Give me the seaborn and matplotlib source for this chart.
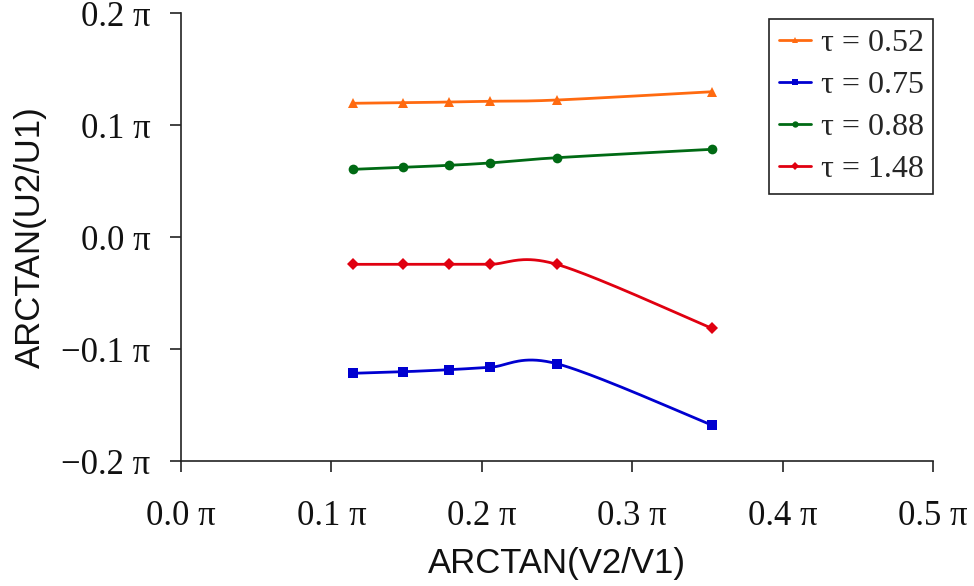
import numpy as np
import pandas as pd
import matplotlib
matplotlib.use('Agg')
import matplotlib.pyplot as plt
from matplotlib.lines import Line2D
from matplotlib.ticker import FuncFormatter
import seaborn as sns

# x positions (in units of pi), shared by all series
x_vals = [0.1142, 0.1477, 0.1779, 0.2052, 0.2498, 0.3529]

# y values (in units of pi) per tau
tau_labels = ["τ = 0.52", "τ = 0.75", "τ = 0.88", "τ = 1.48"]
y_052 = [0.1194, 0.1199, 0.1205, 0.1212, 0.1223, 0.1297]
y_075 = [-0.1217, -0.1203, -0.1185, -0.1164, -0.1131, -0.1679]
y_088 = [0.0604, 0.0622, 0.0640, 0.0661, 0.0708, 0.0783]
y_148 = [-0.0244, -0.0244, -0.0244, -0.0244, -0.0244, -0.0815]

series = [y_052, y_075, y_088, y_148]
colors = ["#ff6a10", "#0000d0", "#006a14", "#e00010"]
markers = ["^", "s", "o", "D"]
msizes = [7.5, 7, 7, 6]


def smooth_curve(xs, ys, n=40):
    """Excel style smoothed line: cubic Bezier segments, Catmull-Rom tangents (1/6)."""
    pts = np.column_stack([xs, ys])
    ext = np.vstack([pts[0], pts, pts[-1]])
    out = []
    t = np.linspace(0, 1, n)[:, None]
    for i in range(len(pts) - 1):
        p0, p1, p2, p3 = ext[i], ext[i + 1], ext[i + 2], ext[i + 3]
        c1 = p1 + (p2 - p0) / 6.0
        c2 = p2 - (p3 - p1) / 6.0
        seg = ((1 - t) ** 3) * p1 + 3 * ((1 - t) ** 2) * t * c1 + 3 * (1 - t) * t ** 2 * c2 + t ** 3 * p2
        out.append(seg if i == 0 else seg[1:])
    curve = np.vstack(out)
    return curve[:, 0], curve[:, 1]


sns.set_style("ticks")
serif = ["Liberation Serif", "DejaVu Serif"]
sans = ["Liberation Sans", "DejaVu Sans"]

fig = plt.figure(figsize=(9.74, 5.86), dpi=100)
ax = fig.add_axes([0.1858, 0.2133, 0.7722, 0.7645])

curves = []
for lab, ys in zip(tau_labels, series):
    cx, cy = smooth_curve(x_vals, ys)
    curves.append(pd.DataFrame({"x": cx, "y": cy, "tau": lab}))
curve_df = pd.concat(curves, ignore_index=True)
pts_df = pd.concat([pd.DataFrame({"x": x_vals, "y": ys, "tau": lab})
                    for lab, ys in zip(tau_labels, series)], ignore_index=True)

palette = dict(zip(tau_labels, colors))
sns.lineplot(data=curve_df, x="x", y="y", hue="tau", palette=palette, sort=False,
             estimator=None, linewidth=2.0, legend=False, ax=ax)
for lab, m, ms in zip(tau_labels, markers, msizes):
    sub = pts_df[pts_df["tau"] == lab]
    ax.plot(sub["x"], sub["y"], linestyle="none", marker=m, markersize=ms,
            color=palette[lab], markeredgewidth=0)

ax.set_xlim(0, 0.5)
ax.set_ylim(-0.2, 0.2)
ax.set_xticks([0.0, 0.1, 0.2, 0.3, 0.4, 0.5])
ax.set_yticks([-0.2, -0.1, 0.0, 0.1, 0.2])
fmt = FuncFormatter(lambda v, p: f"{v:.1f} π".replace("-", "\u2212"))
ax.xaxis.set_major_formatter(fmt)
ax.yaxis.set_major_formatter(fmt)
ax.tick_params(axis="both", direction="out", length=8, width=1.2, color="#222222",
               labelsize=25, labelcolor="#111111")
ax.tick_params(axis="x", pad=20)
ax.tick_params(axis="y", pad=14)
for lbl in ax.get_xticklabels() + ax.get_yticklabels():
    lbl.set_family(serif)

sns.despine(ax=ax)
for sp in ["left", "bottom"]:
    ax.spines[sp].set_linewidth(1.2)
    ax.spines[sp].set_color("#222222")

ax.set_xlabel("ARCTAN(V2/V1)", fontsize=25, family=sans, color="#111111", labelpad=10)
ax.set_ylabel("ARCTAN(U2/U1)", fontsize=25, family=sans, color="#111111", labelpad=10)

handles = [Line2D([0], [0], color=c, marker=m, markersize=ms * 0.65, linewidth=2.0,
                  markeredgewidth=0)
           for c, m, ms in zip(colors, markers, msizes)]
leg = ax.legend(handles, tau_labels, loc="upper right", bbox_to_anchor=(1.0, 0.9866),
                frameon=True, fancybox=False, edgecolor="#222222", framealpha=1,
                handlelength=1.0, handletextpad=0.3, labelspacing=0.4,
                borderpad=0.3, borderaxespad=0.0, prop={"family": serif, "size": 23})
leg.get_frame().set_linewidth(1.2)

fig.savefig("out.png", dpi=100)
